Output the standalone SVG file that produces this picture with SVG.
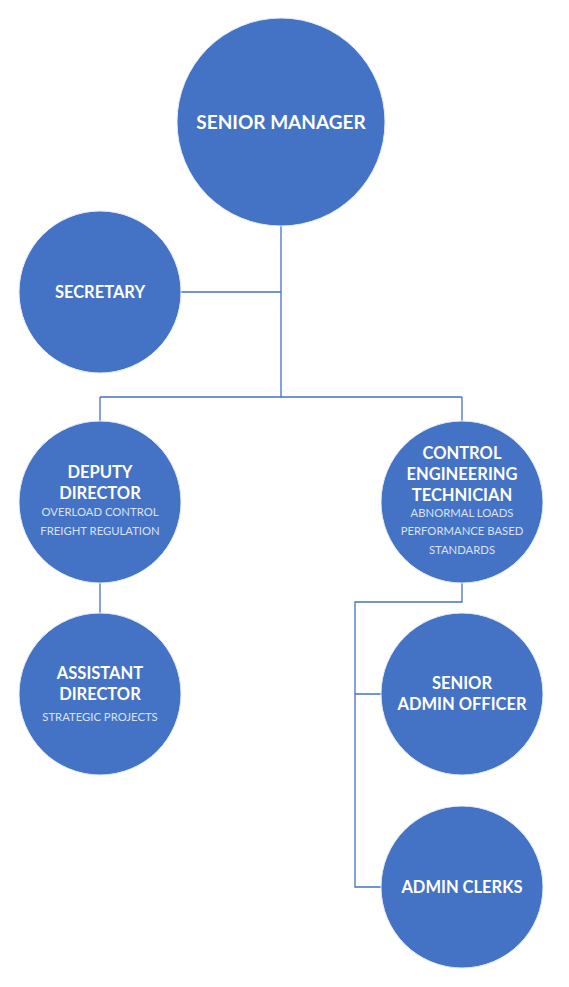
<svg xmlns="http://www.w3.org/2000/svg" width="569" height="987" viewBox="0 0 569 987">
<style>
.node{fill:#4472C4;stroke:#E6ECF7;stroke-width:1}
.t{font-family:Lato,"Open Sans","Liberation Sans",sans-serif;font-weight:bold;fill:#ffffff;text-anchor:middle;font-size:16.5px}
.big{font-size:19px}
.s{font-family:Lato,"Open Sans","Liberation Sans",sans-serif;fill:#D9E2F3;text-anchor:middle;font-size:11.3px}
.c{fill:none;stroke:#4472C4;stroke-width:1.3}
</style>
<rect width="569" height="987" fill="#ffffff"/>
<g id="connectors" class="c">
<path d="M281 226V397M181 292H281M100 397H462M100 397V421M462 397V421"/>
<path d="M100 583V613"/>
<path d="M462 583V602H355V887H381M355 694H381"/>
</g>
<g id="senior-manager">
<circle class="node" cx="281" cy="122" r="104"/>
<text class="t big" x="281" y="129">SENIOR MANAGER</text>
</g>
<g id="secretary">
<circle class="node" cx="100" cy="292" r="81"/>
<text class="t" x="100" y="298">SECRETARY</text>
</g>
<g id="deputy-director">
<circle class="node" cx="100" cy="502" r="81"/>
<text class="t" x="100" y="478">DEPUTY</text>
<text class="t" x="100" y="499">DIRECTOR</text>
<text class="s" x="100" y="516">OVERLOAD CONTROL</text>
<text class="s" x="100" y="535">FREIGHT REGULATION</text>
</g>
<g id="control-engineering-technician">
<circle class="node" cx="462" cy="502" r="81"/>
<text class="t" x="462" y="459">CONTROL</text>
<text class="t" x="462" y="480">ENGINEERING</text>
<text class="t" x="462" y="501">TECHNICIAN</text>
<text class="s" x="462" y="517">ABNORMAL LOADS</text>
<text class="s" x="462" y="535">PERFORMANCE BASED</text>
<text class="s" x="462" y="554">STANDARDS</text>
</g>
<g id="assistant-director">
<circle class="node" cx="100" cy="694" r="81"/>
<text class="t" x="100" y="679">ASSISTANT</text>
<text class="t" x="100" y="700">DIRECTOR</text>
<text class="s" x="100" y="721">STRATEGIC PROJECTS</text>
</g>
<g id="senior-admin-officer">
<circle class="node" cx="462" cy="694" r="81"/>
<text class="t" x="462" y="689">SENIOR</text>
<text class="t" x="462" y="710">ADMIN OFFICER</text>
</g>
<g id="admin-clerks">
<circle class="node" cx="462" cy="887" r="81"/>
<text class="t" x="462" y="893">ADMIN CLERKS</text>
</g>
</svg>
